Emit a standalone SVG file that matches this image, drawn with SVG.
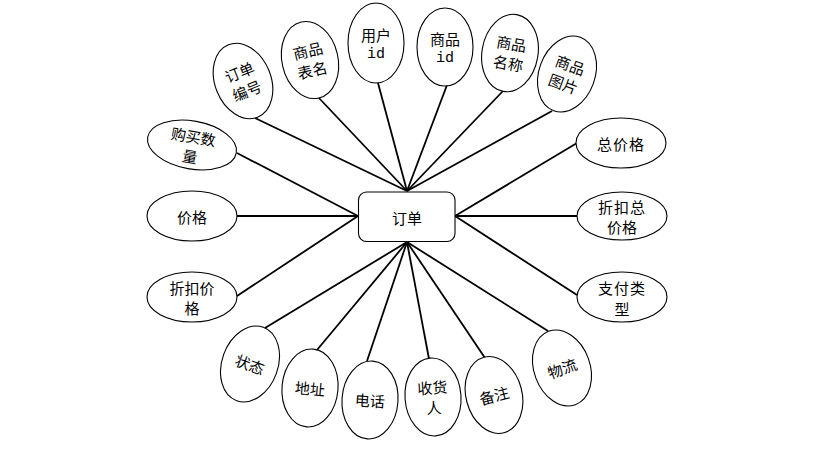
<svg xmlns="http://www.w3.org/2000/svg" width="814" height="455" viewBox="0 0 814 455">
<style>
.e{fill:#fff;stroke:#000;stroke-width:1.1}
.t{font-family:"Noto Sans CJK SC","Liberation Sans",sans-serif;font-size:15px;fill:#000;text-anchor:middle;dominant-baseline:central}
.m{font-family:"Liberation Mono","Noto Sans CJK SC",monospace;font-size:15px;fill:#000;text-anchor:middle;dominant-baseline:central}
.c line{stroke:#000;stroke-width:1.8}
</style>
<rect width="814" height="455" fill="#fff"/>
<g class="c" id="connectors">
<line x1="407" y1="191" x2="255" y2="118"/>
<line x1="407" y1="191" x2="318" y2="97"/>
<line x1="407" y1="191" x2="378" y2="83"/>
<line x1="407" y1="191" x2="447" y2="85"/>
<line x1="407" y1="191" x2="503" y2="91"/>
<line x1="407" y1="191" x2="552" y2="111"/>
<line x1="358" y1="216" x2="237" y2="153"/>
<line x1="358" y1="216" x2="237" y2="216"/>
<line x1="358" y1="216" x2="237" y2="296"/>
<line x1="455" y1="216" x2="577" y2="143"/>
<line x1="455" y1="216" x2="577" y2="216"/>
<line x1="455" y1="216" x2="577" y2="295"/>
<line x1="407" y1="242" x2="265" y2="328"/>
<line x1="407" y1="242" x2="317" y2="350"/>
<line x1="407" y1="242" x2="367" y2="361"/>
<line x1="407" y1="242" x2="429" y2="359"/>
<line x1="407" y1="242" x2="485" y2="358"/>
<line x1="407" y1="242" x2="548" y2="331"/>
</g>
<g id="order">
<rect x="358.5" y="192" width="96.5" height="49.5" rx="8" fill="#fff" stroke="#000" stroke-width="1.1"/>
<text class="t" x="407" y="217">订单</text>
</g>
<g id="order-no" transform="translate(243,81) rotate(-22)">
<ellipse class="e" rx="28" ry="39"/>
<text class="t" y="-10">订单</text><text class="t" y="10">编号</text>
</g>
<g id="table-name" transform="translate(310,60) rotate(-13)">
<ellipse class="e" rx="28" ry="39"/>
<text class="t" y="-10">商品</text><text class="t" y="10">表名</text>
</g>
<g id="user-id" transform="translate(376,43)">
<ellipse class="e" rx="28" ry="40"/>
<text class="t" y="-9">用户</text><text class="m" y="11">id</text>
</g>
<g id="goods-id" transform="translate(445,47)">
<ellipse class="e" rx="28" ry="39"/>
<text class="t" y="-9">商品</text><text class="m" y="11">id</text>
</g>
<g id="goods-name" transform="translate(510,53) rotate(10)">
<ellipse class="e" rx="28" ry="39"/>
<text class="t" y="-10">商品</text><text class="t" y="10">名称</text>
</g>
<g id="goods-pic" transform="translate(567,74) rotate(20)">
<ellipse class="e" rx="28" ry="39"/>
<text class="t" y="-10">商品</text><text class="t" y="10">图片</text>
</g>
<g id="qty" transform="translate(192,145) rotate(10)">
<ellipse class="e" rx="45" ry="24"/>
<text class="t" y="-9">购买数</text><text class="t" y="11">量</text>
</g>
<g id="price" transform="translate(192,216)">
<ellipse class="e" rx="45" ry="25"/>
<text class="t">价格</text>
</g>
<g id="disc-price" transform="translate(192,297)">
<ellipse class="e" rx="45" ry="25"/>
<text class="t" y="-10">折扣价</text><text class="t" y="10">格</text>
</g>
<g id="total" transform="translate(621,143)">
<ellipse class="e" rx="45" ry="25"/>
<text class="t" letter-spacing="1">总价格</text>
</g>
<g id="disc-total" transform="translate(622,216)">
<ellipse class="e" rx="45" ry="24"/>
<text class="t" y="-10" letter-spacing="1">折扣总</text><text class="t" y="10">价格</text>
</g>
<g id="pay-type" transform="translate(622,297)">
<ellipse class="e" rx="45" ry="25"/>
<text class="t" y="-10" letter-spacing="1">支付类</text><text class="t" y="11">型</text>
</g>
<g id="status" transform="translate(250,364) rotate(20)">
<ellipse class="e" rx="28" ry="39"/>
<text class="t">状态</text>
</g>
<g id="address" transform="translate(310,388) rotate(5)">
<ellipse class="e" rx="28" ry="39"/>
<text class="t">地址</text>
</g>
<g id="phone" transform="translate(370,400) rotate(4)">
<ellipse class="e" rx="28" ry="39"/>
<text class="t">电话</text>
</g>
<g id="receiver" transform="translate(433,397) rotate(-4)">
<ellipse class="e" rx="28" ry="39"/>
<text class="t" y="-10">收货</text><text class="t" y="10">人</text>
</g>
<g id="remark" transform="translate(494,395) rotate(-15)">
<ellipse class="e" rx="28" ry="39"/>
<text class="t">备注</text>
</g>
<g id="logistics" transform="translate(562,368) rotate(-20)">
<ellipse class="e" rx="28" ry="39"/>
<text class="t">物流</text>
</g>
</svg>
